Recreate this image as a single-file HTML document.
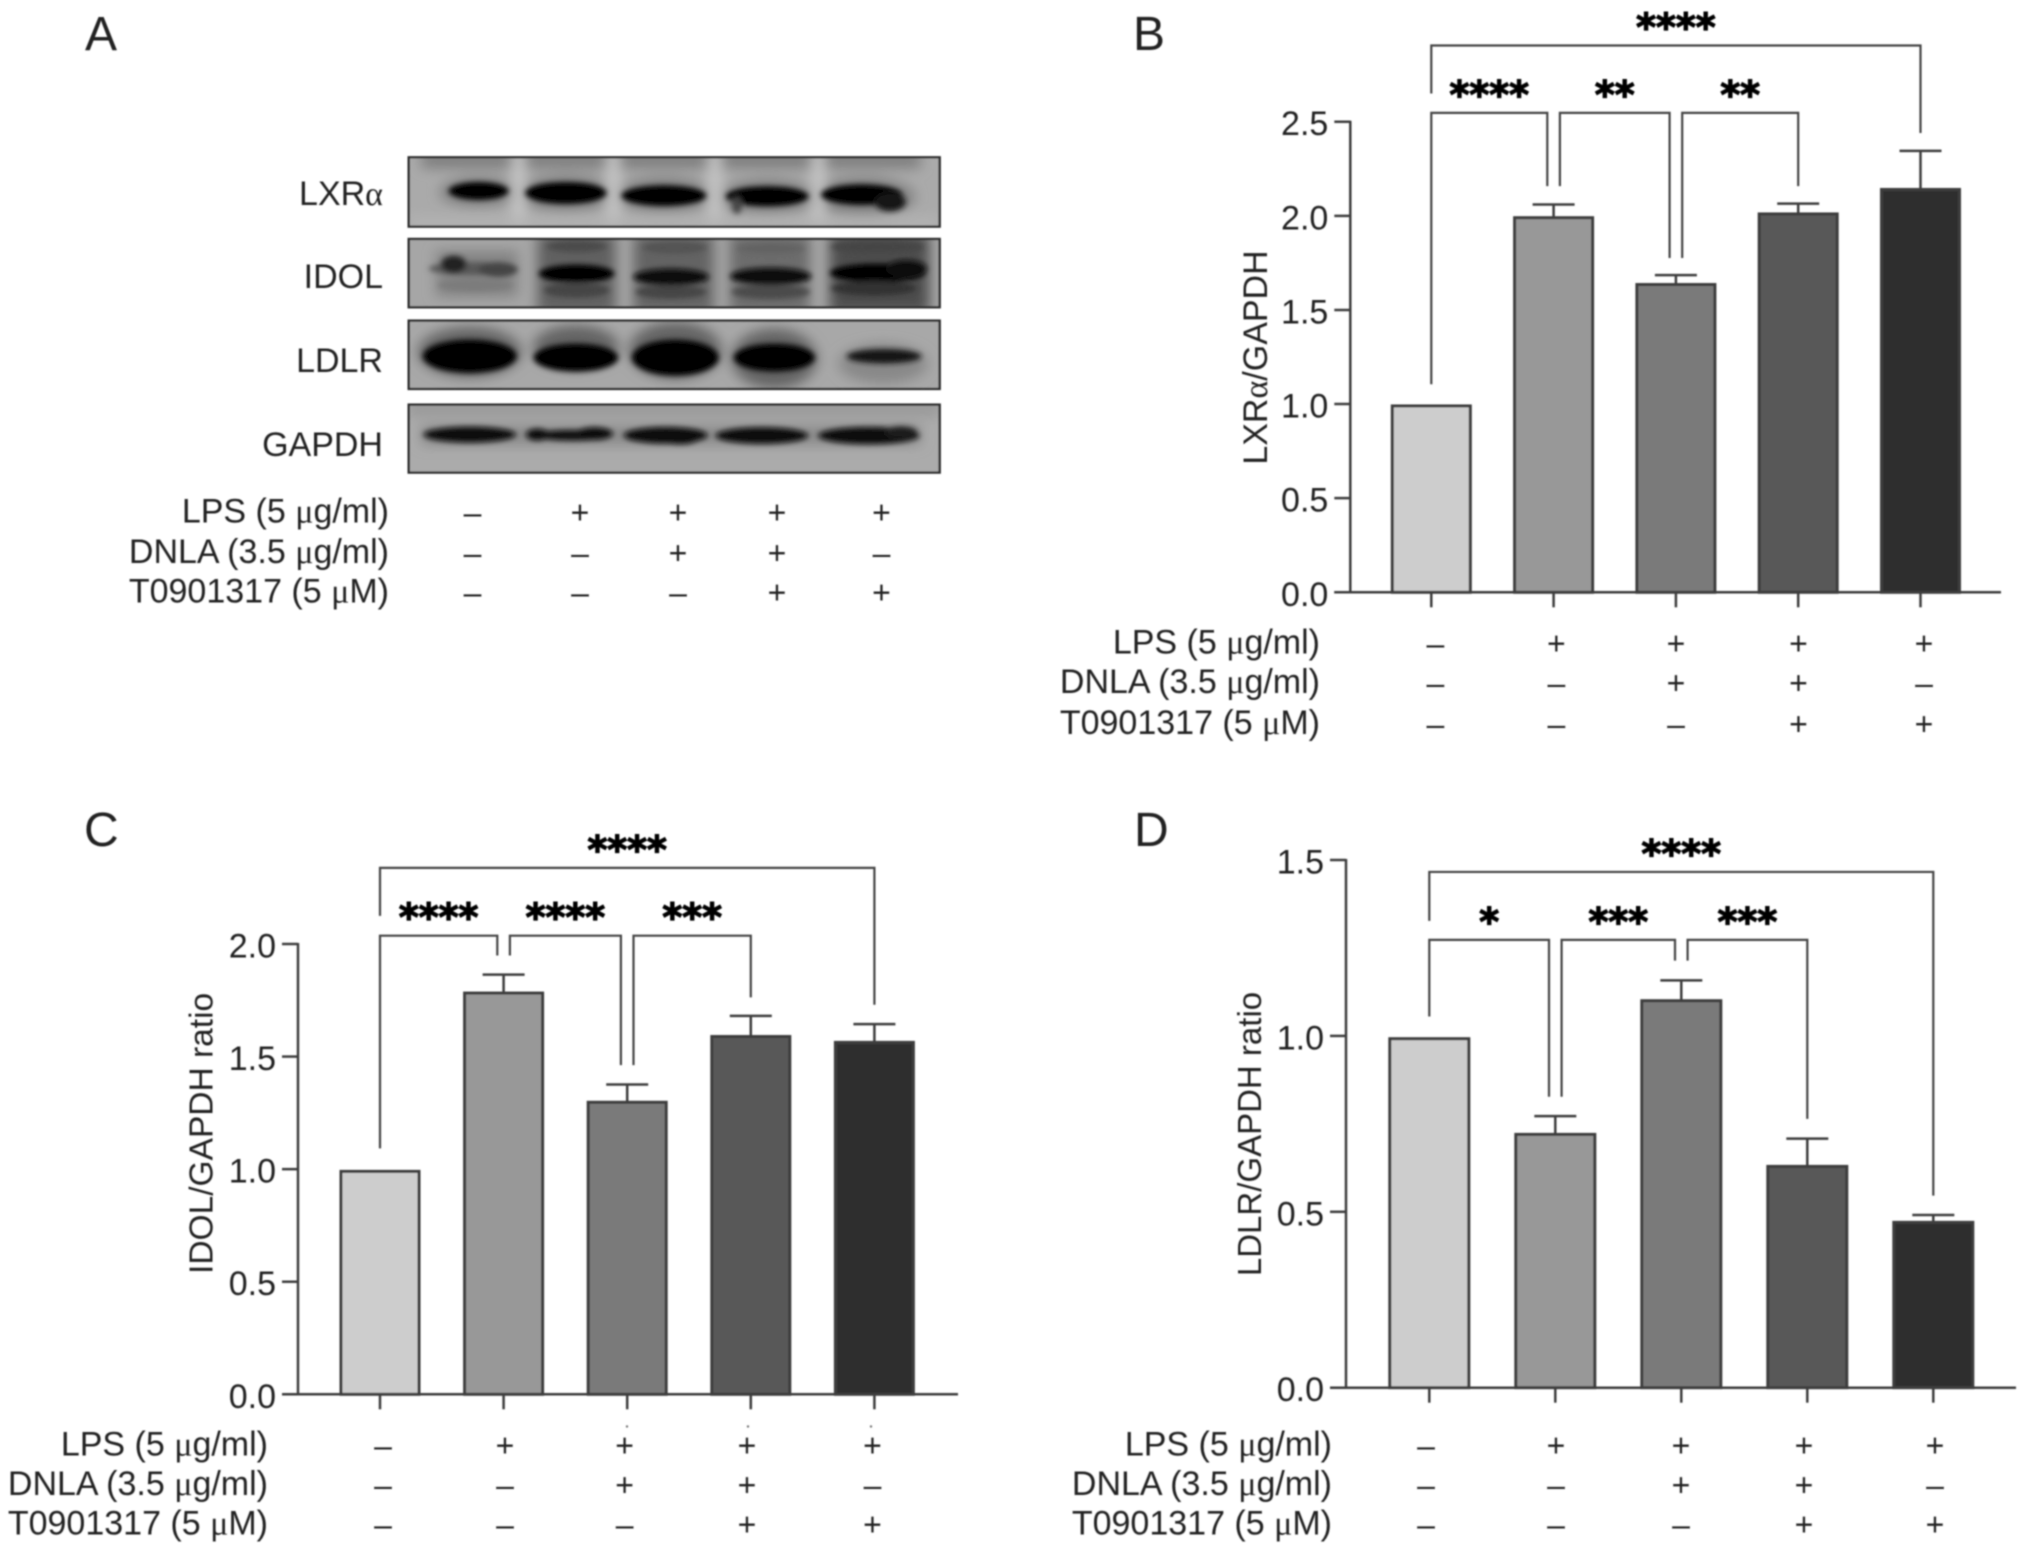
<!DOCTYPE html>
<html lang="en">
<head>
<meta charset="utf-8">
<title>LXRα, IDOL and LDLR western blot and quantification</title>
<style>
html,body{margin:0;padding:0;background:#fff;}
svg{display:block;}
text{font-family:"Liberation Sans",sans-serif;fill:#242424;}
</style>
</head>
<body>
<svg id="figure" xmlns="http://www.w3.org/2000/svg" width="2032" height="1554" viewBox="0 0 2032 1554">
<defs>
<filter id="soft" x="-5%" y="-5%" width="110%" height="110%"><feGaussianBlur stdDeviation="0.7"/></filter>
<filter id="b4" x="-30%" y="-60%" width="160%" height="220%"><feGaussianBlur stdDeviation="8"/></filter>
<filter id="b12" x="-40%" y="-80%" width="180%" height="260%"><feGaussianBlur stdDeviation="18"/></filter>
<clipPath id="clip1"><rect x="22" y="20" width="1493" height="210"/></clipPath>
<clipPath id="clip2"><rect x="22" y="265" width="1493" height="207"/></clipPath>
<clipPath id="clip3"><rect x="22" y="510" width="1493" height="207"/></clipPath>
<clipPath id="clip4"><rect x="22" y="762" width="1493" height="206"/></clipPath>
</defs>
<rect width="2032" height="1554" fill="#fff"/>
<g id="root" filter="url(#soft)">
  <g transform="translate(400.2,150.3) scale(0.3563,0.3333)">
    <g clip-path="url(#clip1)">
      <rect x="22" y="20" width="1493" height="210" fill="#aaaaaa"/>
      <g filter="url(#b12)" fill="#808080">
        <rect x="60" y="0" width="1400" height="55"/>
        <ellipse cx="220" cy="125" rx="110" ry="45"/><ellipse cx="465" cy="130" rx="135" ry="55"/><ellipse cx="740" cy="135" rx="135" ry="55"/><ellipse cx="1030" cy="140" rx="135" ry="55"/><ellipse cx="1300" cy="140" rx="145" ry="60"/>
      </g>
      <g filter="url(#b12)" fill="#c4c4c4">
        <rect x="312" y="0" width="40" height="240"/><rect x="578" y="0" width="40" height="240"/><rect x="863" y="0" width="40" height="240"/><rect x="1153" y="0" width="40" height="240"/><rect x="22" y="200" width="1493" height="30" fill="#b4b4b4"/>
      </g>
      <g filter="url(#b4)" fill="#060606">
        <ellipse cx="220" cy="122" rx="84" ry="27"/><ellipse cx="465" cy="128" rx="114" ry="33"/><ellipse cx="740" cy="136" rx="119" ry="31"/>
        <ellipse cx="1030" cy="138" rx="116" ry="30"/><ellipse cx="945" cy="165" rx="14" ry="26" fill="#444"/><ellipse cx="1295" cy="133" rx="114" ry="31"/><ellipse cx="1375" cy="155" rx="44" ry="28" fill="#181818"/>
      </g>
    </g>
    <g clip-path="url(#clip2)">
      <rect x="22" y="265" width="1493" height="207" fill="#a6a6a6"/>
      <g filter="url(#b12)">
        <rect x="385" y="250" width="220" height="240" fill="#606060"/><rect x="655" y="250" width="225" height="240" fill="#646464"/>
        <rect x="925" y="250" width="225" height="240" fill="#6c6c6c"/><rect x="1205" y="250" width="280" height="240" fill="#4e4e4e"/><rect x="100" y="300" width="230" height="140" fill="#848484"/>
      </g>
      <g filter="url(#b4)">
        <ellipse cx="205" cy="355" rx="125" ry="20" fill="#585858"/><ellipse cx="150" cy="342" rx="36" ry="26" fill="#222"/><ellipse cx="275" cy="358" rx="55" ry="22" fill="#444"/><ellipse cx="210" cy="405" rx="105" ry="18" fill="#7c7c7c"/>
        <ellipse cx="495" cy="370" rx="106" ry="27" fill="#050505"/><ellipse cx="495" cy="420" rx="92" ry="22" fill="#444"/><ellipse cx="495" cy="288" rx="85" ry="18" fill="#4c4c4c"/>
        <ellipse cx="760" cy="380" rx="106" ry="25" fill="#0a0a0a"/><ellipse cx="760" cy="425" rx="100" ry="20" fill="#444"/><ellipse cx="770" cy="292" rx="90" ry="18" fill="#525252"/>
        <ellipse cx="1040" cy="378" rx="114" ry="26" fill="#080808"/><ellipse cx="1040" cy="425" rx="110" ry="22" fill="#4c4c4c"/><ellipse cx="1040" cy="295" rx="95" ry="17" fill="#646464"/>
        <ellipse cx="1340" cy="368" rx="134" ry="28" fill="#000"/><ellipse cx="1420" cy="355" rx="58" ry="26" fill="#111"/><ellipse cx="1330" cy="414" rx="120" ry="22" fill="#303030"/><ellipse cx="1340" cy="290" rx="130" ry="18" fill="#444"/>
      </g>
    </g>
    <g clip-path="url(#clip3)">
      <rect x="22" y="510" width="1493" height="207" fill="#a8a8a8"/>
      <g filter="url(#b12)" fill="#646464">
        <ellipse cx="195" cy="605" rx="145" ry="75"/><ellipse cx="493" cy="590" rx="120" ry="65"/><ellipse cx="772" cy="600" rx="130" ry="85"/><ellipse cx="1050" cy="625" rx="120" ry="90"/><ellipse cx="1355" cy="640" rx="125" ry="60" fill="#888"/>
      </g>
      <g filter="url(#b4)" fill="#020202">
        <ellipse cx="195" cy="618" rx="132" ry="50"/><ellipse cx="493" cy="622" rx="119" ry="42"/><ellipse cx="772" cy="622" rx="122" ry="54"/><ellipse cx="1050" cy="622" rx="114" ry="42"/><ellipse cx="1358" cy="618" rx="105" ry="22" fill="#181818"/>
      </g>
    </g>
    <g clip-path="url(#clip4)">
      <rect x="22" y="762" width="1493" height="206" fill="#ababab"/>
      <rect x="22" y="750" width="1493" height="50" fill="#9a9a9a" filter="url(#b12)"/>
      <g filter="url(#b12)" fill="#8a8a8a"><rect x="60" y="825" width="1400" height="60"/></g>
      <g filter="url(#b4)" fill="#080808">
        <ellipse cx="195" cy="853" rx="130" ry="24"/><ellipse cx="385" cy="853" rx="32" ry="18"/><ellipse cx="485" cy="855" rx="110" ry="16"/><ellipse cx="545" cy="850" rx="52" ry="19"/>
        <ellipse cx="745" cy="855" rx="118" ry="25"/><ellipse cx="785" cy="865" rx="52" ry="17"/><ellipse cx="1015" cy="856" rx="130" ry="25"/><ellipse cx="1315" cy="856" rx="142" ry="26"/><ellipse cx="1405" cy="846" rx="46" ry="18" fill="#1a1a1a"/>
      </g>
    </g>
    <g fill="none" stroke="#2e2e2e">
      <rect x="24" y="21" width="1490" height="208" stroke-width="7"/>
      <rect x="24" y="266" width="1490" height="205" stroke-width="7"/>
      <rect x="24" y="511" width="1490" height="205" stroke-width="7"/>
      <rect x="24" y="763" width="1490" height="204" stroke-width="7"/>
    </g>
  </g>
  <g fill="#777">
    <circle cx="627" cy="1426.5" r="1.2"/><circle cx="748" cy="1426.5" r="1.2"/><circle cx="871" cy="1426.5" r="1.2"/>
  </g>
</g>
</svg>
<script>
// ---------- Shared categories and treatment rows ----------
const categories = ['Control', 'LPS', 'LPS+DNLA', 'LPS+DNLA+T0901317', 'LPS+T0901317'];
const treatmentNames = ['LPS (5 µg/ml)', 'DNLA (3.5 µg/ml)', 'T0901317 (5 µM)'];
const lpsSigns = ['–', '+', '+', '+', '+'];
const dnlaSigns = ['–', '–', '+', '+', '–'];
const t0901317Signs = ['–', '–', '–', '+', '+'];
const blotProteins = ['LXRα', 'IDOL', 'LDLR', 'GAPDH'];
const barFills = ['#cdcdcd', '#989898', '#7a7a7a', '#585858', '#2d2d2d'];

// ---------- Panel B: LXRα ----------
const lxrValues = [0.99, 1.99, 1.635, 2.01, 2.14];
const lxrErrors = [0, 0.07, 0.05, 0.055, 0.205];
const lxrTicks = ['0.0', '0.5', '1.0', '1.5', '2.0', '2.5'];
const lxrComparisons = [
  {from: 0, to: 4, level: 2.905, fromEnd: 2.65, toEnd: 2.44, fromSide: 0, toSide: 0, stars: '****'},
  {from: 0, to: 1, level: 2.547, fromEnd: 1.105, toEnd: 2.158, fromSide: 0, toSide: -1, stars: '****'},
  {from: 1, to: 2, level: 2.547, fromEnd: 2.158, toEnd: 1.776, fromSide: 1, toSide: -1, stars: '**'},
  {from: 2, to: 3, level: 2.547, fromEnd: 1.776, toEnd: 2.158, fromSide: 1, toSide: 0, stars: '**'}
];

// ---------- Panel C: IDOL ----------
const idolValues = [0.99, 1.782, 1.297, 1.589, 1.563];
const idolErrors = [0, 0.082, 0.079, 0.092, 0.081];
const idolTicks = ['0.0', '0.5', '1.0', '1.5', '2.0'];
const idolComparisons = [
  {from: 0, to: 4, level: 2.338, fromEnd: 2.125, toEnd: 1.73, fromSide: 0, toSide: 0, stars: '****'},
  {from: 0, to: 1, level: 2.037, fromEnd: 1.092, toEnd: 1.949, fromSide: 0, toSide: -1, stars: '****'},
  {from: 1, to: 2, level: 2.037, fromEnd: 1.949, toEnd: 1.462, fromSide: 1, toSide: -1, stars: '****'},
  {from: 2, to: 3, level: 2.037, fromEnd: 1.462, toEnd: 1.763, fromSide: 1, toSide: 0, stars: '***'}
];

// ---------- Panel D: LDLR ----------
const ldlrValues = [0.992, 0.72, 1.10, 0.629, 0.47];
const ldlrErrors = [0, 0.052, 0.058, 0.079, 0.021];
const ldlrTicks = ['0.0', '0.5', '1.0', '1.5'];
const ldlrComparisons = [
  {from: 0, to: 4, level: 1.466, fromEnd: 1.327, toEnd: 0.546, fromSide: 0, toSide: 0, stars: '****'},
  {from: 0, to: 1, level: 1.273, fromEnd: 1.055, toEnd: 0.827, fromSide: 0, toSide: -1, stars: '*'},
  {from: 1, to: 2, level: 1.273, fromEnd: 0.827, toEnd: 1.214, fromSide: 1, toSide: -1, stars: '***'},
  {from: 2, to: 3, level: 1.273, fromEnd: 1.214, toEnd: 0.764, fromSide: 1, toSide: 0, stars: '***'}
];

const NS = 'http://www.w3.org/2000/svg';
const root = document.getElementById('root');
const AXIS = '#3c3c3c';

function make(parent, tag, attrs) {
  const el = document.createElementNS(NS, tag);
  for (const k in attrs) el.setAttribute(k, attrs[k]);
  parent.appendChild(el);
  return el;
}
function greekText(el, str) {
  str.split(/([µα])/).forEach(function (part) {
    if (!part) return;
    if (part === 'µ' || part === 'α') {
      const s = make(el, 'tspan', {});
      s.setAttribute('style', 'font-family:"Liberation Serif",serif');
      s.textContent = part === 'µ' ? 'μ' : part;
    } else {
      el.appendChild(document.createTextNode(part));
    }
  });
}
function line(parent, x1, y1, x2, y2, w) {
  return make(parent, 'line', {x1: x1, y1: y1, x2: x2, y2: y2, stroke: AXIS, 'stroke-width': w});
}

function drawTreatments(parent, labelRight, rowYs, markXs) {
  const rows = [lpsSigns, dnlaSigns, t0901317Signs];
  rows.forEach(function (signs, r) {
    const lab = make(parent, 'text', {x: labelRight, y: rowYs[r] + 10, 'text-anchor': 'end', 'font-size': 34});
    
    
    greekText(lab, treatmentNames[r]);
    signs.forEach(function (s, i) {
      const m = make(parent, 'text', {x: markXs[i], y: rowYs[r] + 11, 'text-anchor': 'middle', 'font-size': 32});
      
      
      m.textContent = s;
    });
  });
}

function drawPanel(o) {
  const g = make(root, 'g', {});
  
  

  const maxTick = parseFloat(o.ticks[o.ticks.length - 1]);
  const yScale = function (v) { return o.yBase - (v / maxTick) * (o.yBase - o.yTop); };
  const xScale = function (i) { return o.firstX + i * o.step; };

  // bars
  categories.forEach(function (c, i) {
    const top = yScale(o.values[i]);
    const bar = make(g, 'rect', {x: xScale(i) - o.barW / 2, y: top, width: o.barW, height: o.yBase - top, fill: barFills[i], stroke: '#3e3e3e', 'stroke-width': 3});
    
    
    if (o.errors[i] > 0) {
      const errTop = yScale(o.values[i] + o.errors[i]);
      const stem = line(g, xScale(i), top, xScale(i), errTop, 2.5);
      
      
      const cap = line(g, xScale(i) - 21, errTop, xScale(i) + 21, errTop, 2.5);
      
      
    }
    const xt = line(g, xScale(i), o.yBase, xScale(i), o.yBase + 15, 2.5);
    
    
  });

  // axes
  const yAxis = line(g, o.axisX, o.yTop - 1, o.axisX, o.yBase, 2.5);
  
  
  const xAxis = line(g, o.axisX - 16, o.yBase, o.right, o.yBase, 2.5);
  
  
  o.ticks.forEach(function (t) {
    const y = yScale(parseFloat(t));
    const tk = line(g, o.axisX - 16, y, o.axisX, y, 2.5);
    
    
    const lb = make(g, 'text', {x: o.axisX - 22, y: y + 13.5, 'text-anchor': 'end', 'font-size': 34});
    
    
    lb.textContent = t;
  });

  // y-axis title
  const title = make(g, 'text', {transform: 'translate(' + o.titleX + ',' + o.titleY + ') rotate(-90)', 'text-anchor': 'middle', 'font-size': o.titleSize});
  
  
  greekText(title, o.title);

  // significance brackets
  o.comparisons.forEach(function (c) {
    const gap = 6.3;
    const x1 = xScale(c.from) + c.fromSide * gap;
    const x2 = xScale(c.to) + c.toSide * gap;
    const yL = yScale(c.level);
    const br = make(g, 'path', {
      d: 'M' + x1 + ' ' + yScale(c.fromEnd) + 'V' + yL + 'H' + x2 + 'V' + yScale(c.toEnd),
      fill: 'none', stroke: '#454545', 'stroke-width': 2.2
    });
    
    
    const st = make(g, 'text', {x: (x1 + x2) / 2, y: yL - 5, 'text-anchor': 'middle', 'font-size': 38, 'font-weight': 'bold'});
    st.setAttribute('style', 'font-family:"DejaVu Sans",sans-serif;fill:#000;stroke:#000;stroke-width:1.3');
    
    
    st.textContent = c.stars;
  });

  drawTreatments(g, o.labelRight, o.rowYs, o.markXs);
}

drawPanel({
  values: lxrValues, errors: lxrErrors, ticks: lxrTicks, comparisons: lxrComparisons,
  axisX: 1350.3, yBase: 592.3, yTop: 121.7, right: 2001, firstX: 1431.3, step: 122.3, barW: 78,
  title: 'LXRα/GAPDH', titleX: 1267, titleY: 357.5, titleSize: 34,
  labelRight: 1320, rowYs: [643.6, 683, 724], markXs: [1435.4, 1556.4, 1676, 1798.5, 1924]
});
drawPanel({
  values: idolValues, errors: idolErrors, ticks: idolTicks, comparisons: idolComparisons,
  axisX: 298, yBase: 1394.3, yTop: 944, right: 958, firstX: 380, step: 123.6, barW: 78,
  title: 'IDOL/GAPDH ratio', titleX: 212.6, titleY: 1133.4, titleSize: 33.5,
  labelRight: 268, rowYs: [1445.3, 1484.9, 1524.5], markXs: [383, 505, 624.6, 747, 872.5]
});
drawPanel({
  values: ldlrValues, errors: ldlrErrors, ticks: ldlrTicks, comparisons: ldlrComparisons,
  axisX: 1346, yBase: 1387.7, yTop: 860, right: 2016, firstX: 1429.3, step: 126, barW: 79,
  title: 'LDLR/GAPDH ratio', titleX: 1261, titleY: 1134, titleSize: 33,
  labelRight: 1332, rowYs: [1445.3, 1484.9, 1524.5], markXs: [1426, 1556, 1681, 1804, 1935]
});

// Panel A labels
const panelA = make(root, 'g', {});


const proteinYs = [193, 276, 360, 444];
blotProteins.forEach(function (p, i) {
  const t = make(panelA, 'text', {x: 383, y: proteinYs[i] + 12, 'text-anchor': 'end', 'font-size': 34});
  
  
  greekText(t, p);
});
drawTreatments(panelA, 389, [512.4, 553, 592.6], [472.5, 580, 678, 777, 881.5]);

// Panel letters
const panelLetters = ['A', 'B', 'C', 'D'];
const letterXs = [85, 1133, 84, 1134];
const letterYs = [50, 50, 846, 846];
panelLetters.forEach(function (l, i) {
  const t = make(root, 'text', {x: letterXs[i], y: letterYs[i], 'font-size': 48});
  
  
  t.textContent = l;
});
</script>
</body>
</html>
